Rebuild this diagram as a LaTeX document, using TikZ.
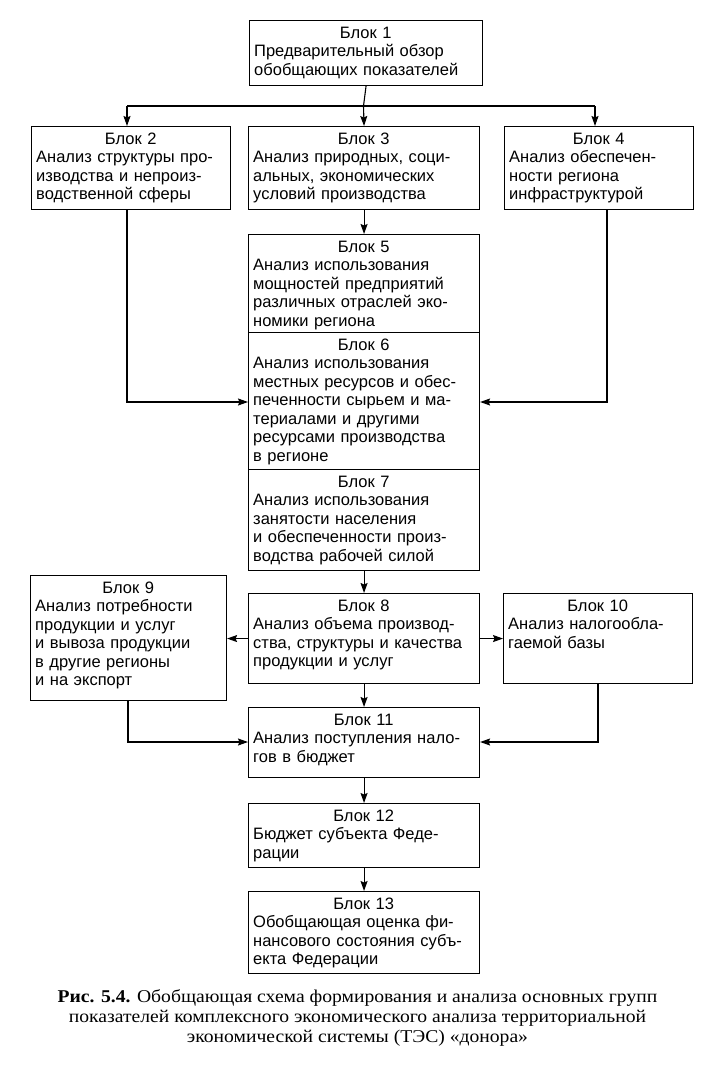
\documentclass[tikz,border=0pt]{standalone}
\usepackage{fontspec}
\setmainfont{Liberation Sans}
\newfontfamily\capfont[FakeStretch=1.09]{Liberation Serif}
\usetikzlibrary{arrows.meta}
\tikzset{
  blk/.style={draw, line width=1.1pt, inner sep=0pt, anchor=north west},
  txt/.style={anchor=north west, inner sep=0pt, align=left, font=\fontsize{16.5}{18.5}\selectfont},
  arr/.style={line width=1.1pt, -{Stealth[length=10pt,width=7pt,inset=1.5pt]}},
  ln/.style={line width=1.1pt},
  captxt/.style={anchor=north, inner sep=0pt, align=center, font=\capfont\fontsize{18}{20}\selectfont},
}
\newcommand\ttl[1]{\makebox[\tw pt][c]{#1}}
\newcommand\mkbox[6]{%
  \pgfmathsetmacro\bw{#4-#2}\pgfmathsetmacro\bh{#5-#3}\pgfmathsetmacro\tw{#4-#2-10}\pgfmathsetmacro\ww{#4-#2+40}%
  \node[blk, minimum width=\bw pt, minimum height=\bh pt] (#1) at (#2,#3) {};
  \node[txt, text width=\ww pt] (#1t) at ([xshift=5pt,yshift=-6.5pt]#1.north west) {#6};
}
\begin{document}
\begin{tikzpicture}[x=1pt,y=-1pt]
\fill[white] (0,0) rectangle (713,1081);
\useasboundingbox (0,0) rectangle (713,1081);

\mkbox{b1}{249}{20}{482}{85}{\ttl{Блок 1}\\Предварительный обзор\\обобщающих показателей}
\mkbox{b2}{31}{126}{230}{209}{\ttl{Блок 2}\\Анализ структуры про-\\изводства и непроиз-\\водственной сферы}
\mkbox{b3}{248}{126}{479}{209}{\ttl{Блок 3}\\Анализ природных, соци-\\альных, экономических\\условий производства}
\mkbox{b4}{504}{126}{693}{209}{\ttl{Блок 4}\\Анализ обеспечен-\\ности региона\\инфраструктурой}
\mkbox{b5}{248}{234}{479}{332}{\ttl{Блок 5}\\Анализ использования\\мощностей предприятий\\различных отраслей эко-\\номики региона}
\mkbox{b6}{248}{332}{479}{469}{\ttl{Блок 6}\\Анализ использования\\местных ресурсов и обес-\\печенности сырьем и ма-\\териалами и другими\\ресурсами производства\\в регионе}
\mkbox{b7}{248}{469}{479}{570}{\ttl{Блок 7}\\Анализ использования\\занятости населения\\и обеспеченности произ-\\водства рабочей силой}
\mkbox{b8}{248}{593}{479}{683}{\ttl{Блок 8}\\Анализ объема производ-\\ства, структуры и качества\\продукции и услуг}
\mkbox{b9}{30}{575}{226}{700}{\ttl{Блок 9}\\Анализ потребности\\продукции и услуг\\и вывоза продукции\\в другие регионы\\и на экспорт}
\mkbox{b10}{503}{593}{692}{683}{\ttl{Блок 10}\\Анализ налогообла-\\гаемой базы}
\mkbox{b11}{248}{707}{479}{777}{\ttl{Блок 11}\\Анализ поступления нало-\\гов в бюджет}
\mkbox{b12}{248}{803}{479}{867}{\ttl{Блок 12}\\Бюджет субъекта Феде-\\рации}
\mkbox{b13}{248}{891}{479}{973}{\ttl{Блок 13}\\Обобщающая оценка фи-\\нансового состояния субъ-\\екта Федерации}

\coordinate (h) at (363.5,106);
\coordinate (hl) at (127,106);
\coordinate (hr) at (595,106);
\draw[ln] (b1.south) -- (h);
\draw[ln] (hl) -- (hr);
\draw[arr] (hl) -- (hl |- b2.north);
\draw[arr] (h) -- (b3.north);
\draw[arr] (hr) -- (hr |- b4.north);
\draw[arr] (b3.south) -- (b5.north);

\coordinate (l6) at (127,402);
\coordinate (r6) at (607,402);
\draw[arr] (b2.south -| l6) -- (l6) -- (l6 -| b6.west);
\draw[arr] (b4.south -| r6) -- (r6) -- (r6 -| b6.east);
\draw[arr] (b7.south) -- (b8.north);

\draw[arr] (b8.west) -- (b8.west -| b9.east);
\draw[arr] (b8.east) -- (b8.east -| b10.west);
\draw[arr] (b8.south) -- (b11.north);

\coordinate (l11) at (128,742);
\coordinate (r11) at (598,742);
\draw[arr] (b9.south -| l11) -- (l11) -- (l11 -| b11.west);
\draw[arr] (b10.south -| r11) -- (r11) -- (r11 -| b11.east);
\draw[arr] (b11.south) -- (b12.north);
\draw[arr] (b12.south) -- (b13.north);

\node[captxt] (cap) at (357.5,989) {\textbf{Рис. 5.4.} Обобщающая схема формирования и анализа основных групп\\показателей комплексного экономического анализа территориальной\\экономической системы (ТЭС) «донора»};
\end{tikzpicture}
\end{document}
